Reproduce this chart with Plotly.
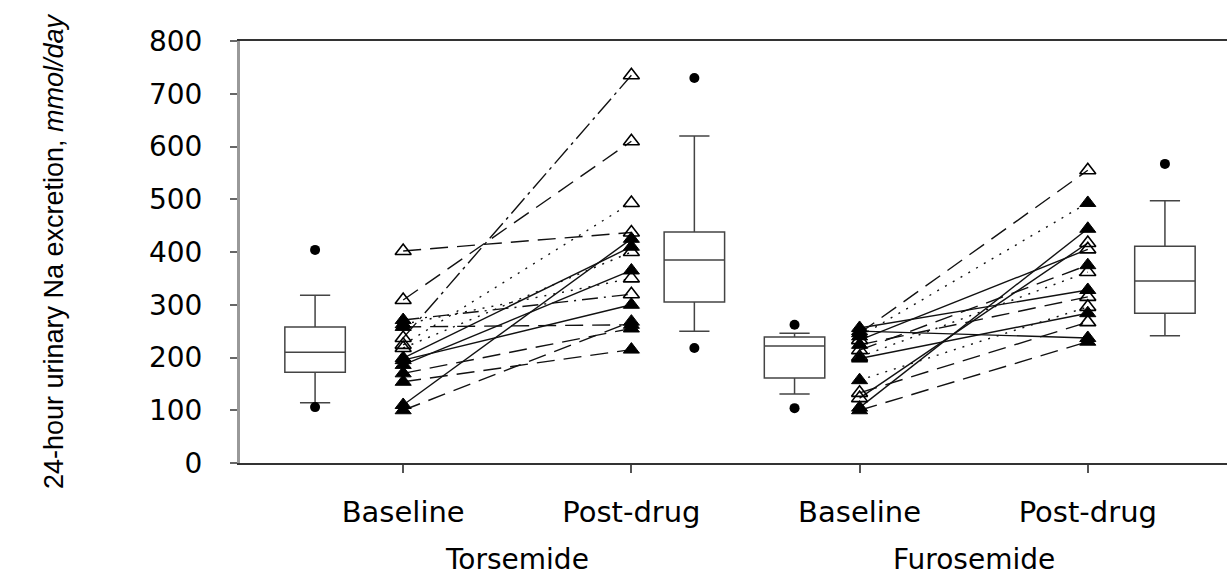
import plotly.graph_objects as go

# ---------------- data ----------------
tick_labels = ["Baseline", "Post-drug", "Baseline", "Post-drug"]
group_labels = ["Torsemide", "Furosemide"]

tor_base = [402, 309, 237, 224, 218, 271, 258, 263, 199, 186, 195, 170, 154, 110, 100]
tor_post = [437, 610, 735, 493, 400, 320, 262, 350, 410, 365, 300, 255, 215, 425, 268]
tor_base_open = [1, 1, 1, 1, 1, 0, 0, 0, 0, 0, 0, 0, 0, 0, 0]
tor_post_open = [1, 1, 1, 1, 1, 1, 0, 1, 0, 0, 0, 0, 0, 0, 0]

fur_base = [246, 240, 105, 123, 233, 214, 201, 256, 224, 157, 198, 133, 250, 100]
fur_post = [555, 493, 444, 417, 405, 375, 362, 328, 315, 296, 284, 267, 237, 230]
fur_base_open = [0, 0, 0, 1, 1, 1, 1, 0, 0, 0, 0, 1, 0, 0]
fur_post_open = [1, 0, 0, 1, 1, 0, 1, 0, 1, 1, 0, 1, 0, 0]

# box summaries: lower whisker, q1, median, q3, upper whisker
box_lower = [114, 250, 131, 241]
box_q1 = [172, 305, 161, 284]
box_median = [210, 385, 222, 345]
box_q3 = [258, 438, 239, 411]
box_upper = [318, 620, 246, 497]
box_outliers = [[106, 404], [218, 730], [104, 262], [567]]

# ---------------- styles / layout ----------------
LONG = "18px,9px"
DOT = "2px,7px"
DASHDOT = "16px,6px,2px,6px"
LDD = "20px,5px,3px,5px"
tor_dash = [LONG, LONG, LDD, DOT, DOT, DASHDOT, LONG, DOT, "solid", "solid",
            "solid", LONG, LONG, "solid", LONG]
fur_dash = [LONG, DOT, "solid", "solid", "solid", LONG, DOT, "solid", LONG,
            DOT, "solid", LONG, "solid", LONG]

tick_pos = [1, 2, 3, 4]
box_pos = [1 - 0.386, 2 + 0.276, 3 - 0.285, 4 + 0.338]
FONT = "DejaVu Sans"

fig = go.Figure()


def add_pairs(x0, x1, base, post, dashes):
    for b, p, d in zip(base, post, dashes):
        fig.add_trace(go.Scatter(
            x=[x0, x1], y=[b, p], mode="lines",
            line=dict(color="#111", width=1.4, dash=d),
            showlegend=False, hoverinfo="skip"))


def add_markers(x, vals, opens):
    filled = [v for v, o in zip(vals, opens) if not o]
    hollow = [v for v, o in zip(vals, opens) if o]
    fig.add_trace(go.Scatter(
        x=[x] * len(filled), y=filled, mode="markers",
        marker=dict(symbol="triangle-up", size=14, color="black",
                    line=dict(color="black", width=1)),
        showlegend=False))
    fig.add_trace(go.Scatter(
        x=[x] * len(hollow), y=hollow, mode="markers",
        marker=dict(symbol="triangle-up-open", size=14, color="black",
                    line=dict(color="black", width=1.6)),
        showlegend=False))


add_pairs(tick_pos[0], tick_pos[1], tor_base, tor_post, tor_dash)
add_pairs(tick_pos[2], tick_pos[3], fur_base, fur_post, fur_dash)
add_markers(tick_pos[0], tor_base, tor_base_open)
add_markers(tick_pos[1], tor_post, tor_post_open)
add_markers(tick_pos[2], fur_base, fur_base_open)
add_markers(tick_pos[3], fur_post, fur_post_open)

for i in range(4):
    fig.add_trace(go.Box(
        x=[box_pos[i]], q1=[box_q1[i]], median=[box_median[i]], q3=[box_q3[i]],
        lowerfence=[box_lower[i]], upperfence=[box_upper[i]],
        orientation="v", width=0.265, whiskerwidth=0.5,
        fillcolor="white", line=dict(color="#444", width=1.5),
        boxpoints=False, showlegend=False, hoverinfo="skip"))
    fig.add_trace(go.Scatter(
        x=[box_pos[i]] * len(box_outliers[i]), y=box_outliers[i], mode="markers",
        marker=dict(symbol="circle", size=10, color="black"),
        showlegend=False))

for j, g in enumerate(group_labels):
    fig.add_annotation(
        x=(tick_pos[2 * j] + tick_pos[2 * j + 1]) / 2, xref="x",
        y=-0.228, yref="paper", text=g, showarrow=False,
        font=dict(family=FONT, size=28, color="black"),
        xanchor="center", yanchor="middle")

fig.update_layout(
    width=1227, height=576,
    margin=dict(l=240, r=0, t=41, b=113),
    plot_bgcolor="white", paper_bgcolor="white",
    showlegend=False,
    xaxis=dict(
        range=[0.285, 4.61], tickvals=tick_pos, ticktext=tick_labels,
        showgrid=False, zeroline=False,
        showline=True, linecolor="#333", linewidth=2, mirror=True,
        ticks="outside", ticklen=8, tickcolor="#555", tickwidth=2,
        ticklabelstandoff=14,
        tickfont=dict(family=FONT, size=29, color="black")),
    yaxis=dict(
        range=[0, 800], tickvals=list(range(0, 801, 100)),
        showgrid=False, zeroline=False,
        showline=True, linecolor="#999", linewidth=3,
        ticks="outside", ticklen=7, tickcolor="#666", tickwidth=2,
        ticklabelstandoff=22,
        tickfont=dict(family=FONT, size=28, color="black"),
        title=dict(text="24-hour urinary Na excretion, <i>mmol/day</i>",
                   font=dict(family="Liberation Sans", size=27, color="black"),
                   standoff=78)),
)

fig.write_html("out.html")
